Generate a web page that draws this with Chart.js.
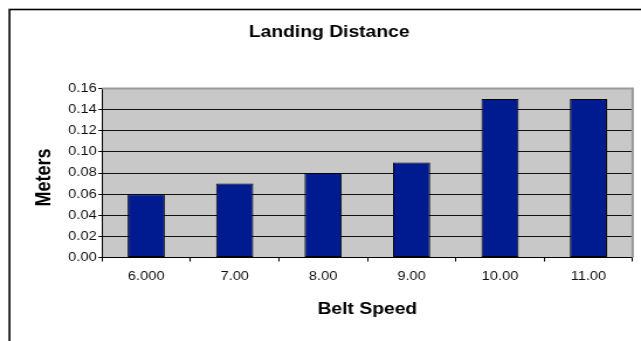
<!DOCTYPE html>
<html>
<head>
<meta charset="utf-8">
<script src="https://cdn.jsdelivr.net/npm/chart.js@4"></script>
<style>
  html, body { margin: 0; padding: 0; background: #ffffff; overflow: hidden; }
  #stage {
    width: 548px; height: 341px;
    transform: scaleX(1.1697); transform-origin: 0 0;
  }
</style>
</head>
<body>
<div id="stage"><canvas id="chart"></canvas></div>
<script>
// Belt speed categories and measured landing distance (m)
const beltSpeeds = ['6.000', '7.00', '8.00', '9.00', '10.00', '11.00'];
const landingDistance = [0.06, 0.07, 0.08, 0.09, 0.15, 0.15];
const yTickLabels = ['0.00', '0.02', '0.04', '0.06', '0.08', '0.10', '0.12', '0.14', '0.16'];
const yAxisTitle = 'Meters';

const FONT = "'Liberation Sans', Arial, Helvetica, sans-serif";

// Grey plot background, outer frame, light top/right plot edges and the value-axis title
const decor = {
  id: 'decor',
  beforeDraw(chart) {
    const { ctx, chartArea: a } = chart;
    ctx.save();
    ctx.fillStyle = '#c8c8c8';
    ctx.fillRect(a.left, a.top, a.right - a.left, a.bottom - a.top);
    ctx.strokeStyle = '#000000';
    ctx.lineWidth = 1.6;
    ctx.strokeRect(8.1, 9.5, chart.width + 20, chart.height + 20);
    ctx.restore();
  },
  beforeDatasetsDraw(chart) {
    const { ctx, chartArea: a } = chart;
    ctx.save();
    ctx.strokeStyle = '#9a9a9a';
    ctx.lineWidth = 2;
    ctx.beginPath();
    ctx.moveTo(a.left, a.top);
    ctx.lineTo(a.right, a.top);
    ctx.lineTo(a.right, a.bottom);
    ctx.stroke();
    ctx.restore();
  },
  afterDraw(chart) {
    const { ctx } = chart;
    const y = chart.scales.y;
    ctx.save();
    ctx.translate(y.left + 16.1, (y.top + y.bottom) / 2 + 4.5);
    ctx.rotate(-Math.PI / 2);
    ctx.fillStyle = '#000000';
    ctx.font = 'bold 18px ' + FONT;
    ctx.textAlign = 'center';
    ctx.textBaseline = 'middle';
    ctx.fillText(yAxisTitle, 0, 0);
    ctx.restore();
  }
};

new Chart(document.getElementById('chart'), {
  type: 'bar',
  data: {
    labels: beltSpeeds,
    datasets: [{
      data: landingDistance,
      backgroundColor: '#001a8f',
      borderColor: '#000000',
      borderWidth: 1,
      borderSkipped: false,
      barPercentage: 0.42,
      categoryPercentage: 1.0
    }]
  },
  options: {
    responsive: true,
    maintainAspectRatio: false,
    animation: false,
    devicePixelRatio: 1,
    layout: { padding: { left: 21.9, right: 7.1, top: 0, bottom: 0 } },
    plugins: {
      legend: { display: false },
      tooltip: { enabled: false },
      title: {
        display: true,
        text: 'Landing Distance',
        color: '#000000',
        font: { family: FONT, size: 16.5, weight: 'bold', lineHeight: 1.2 },
        padding: { top: 23, bottom: 45.7 }
      }
    },
    scales: {
      x: {
        grid: {
          display: true,
          offset: true,
          drawOnChartArea: false,
          drawTicks: true,
          tickLength: 4,
          color: '#000000'
        },
        border: { display: true, color: '#000000', width: 1 },
        ticks: {
          color: '#111111',
          padding: 7.5,
          maxRotation: 0,
          autoSkip: false,
          font: { family: FONT, size: 12.5 }
        },
        title: {
          display: true,
          text: 'Belt Speed',
          color: '#000000',
          font: { family: FONT, size: 16.5, weight: 'bold', lineHeight: 1.2 },
          padding: { top: 0, bottom: 21.5 }
        },
        afterFit(scale) { scale.height = 83.5; }
      },
      y: {
        min: 0,
        max: 0.16,
        ticks: {
          stepSize: 0.02,
          color: '#111111',
          padding: 1.5,
          font: { family: FONT, size: 12.5 },
          callback: (value, index) => yTickLabels[index]
        },
        grid: {
          drawTicks: true,
          tickLength: 3,
          color: (c) => (c.tick && c.tick.value >= 0.159 ? 'rgba(0,0,0,0)' : '#111111'),
          tickColor: '#000000',
          lineWidth: 1
        },
        border: { display: true, color: '#000000', width: 1 },
        title: { display: false },
        afterFit(scale) { scale.width = 65.3; }
      }
    }
  },
  plugins: [decor]
});
</script>
</body>
</html>
